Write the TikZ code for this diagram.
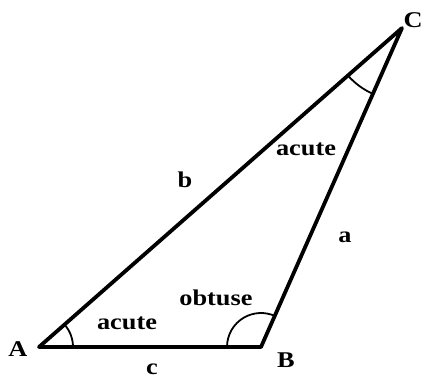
\documentclass[tikz,border=0pt]{standalone}
\usepackage{fontspec}
\setmainfont{Liberation Serif}
\usetikzlibrary{calc}
\newcommand{\wide}[1]{\scalebox{1.17}[1]{#1}}
\begin{document}
\begin{tikzpicture}[x=1pt,y=-1pt,
  side/.style={line width=3.8pt,line cap=round,line join=round},
  anglearc/.style={line width=1.8pt},
  lbl/.style={font=\bfseries\fontsize{22.5}{24}\selectfont,inner sep=0pt}]
\useasboundingbox (0,0) rectangle (430,379);
\coordinate (A) at (39,347);
\coordinate (B) at (261,347);
\coordinate (C) at (402,28);
\draw[side] (A) -- (B) -- (C) -- cycle;
% angle arcs
\draw[anglearc] ($(A)+(0:34)$) arc[start angle=0,end angle=-41.3,radius=34];
\draw[anglearc] ($(B)+(180:34)$) arc[start angle=180,end angle=293.8,radius=34];
\draw[anglearc] ($(C)+(113.8:72)$) arc[start angle=113.8,end angle=138.7,radius=72];
% labels
\node[lbl] (lA) at (18,349) {\wide{A}};
\node[lbl] (lB) at (286,360) {\wide{B}};
\node[lbl] (lC) at (413,20) {\wide{C}};
\node[lbl] (la) at (345,237) {\wide{a}};
\node[lbl] (lb) at (185,180) {\wide{b}};
\node[lbl] (lc) at (152,369) {\wide{c}};
\node[lbl] (acC) at (306,149) {\wide{acute}};
\node[lbl] (acA) at (127,323) {\wide{acute}};
\node[lbl] (obB) at (216,298) {\wide{obtuse}};
\end{tikzpicture}
\end{document}
